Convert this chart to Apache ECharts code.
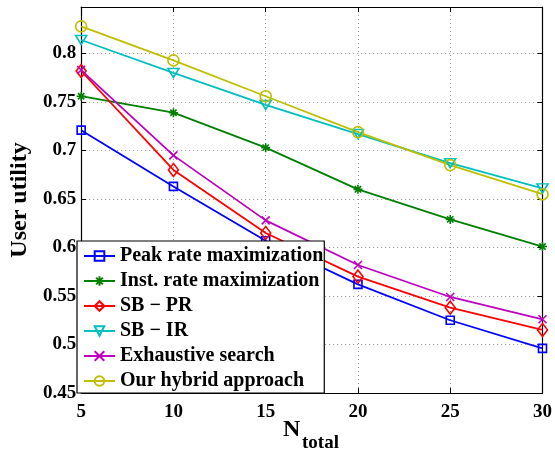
<!DOCTYPE html>
<html>
<head>
<meta charset="utf-8">
<script src="https://cdn.jsdelivr.net/npm/echarts@6/dist/echarts.min.js"></script>
<style>
html,body{margin:0;padding:0;background:#fff;}
#chart{width:555px;height:455px;}
</style>
</head>
<body>
<div id="chart"></div>
<script>
var nTotal = [5, 10, 15, 20, 25, 30];
var seriesNames = ['Peak rate maximization', 'Inst. rate maximization', 'SB \u2212 PR', 'SB \u2212 IR', 'Exhaustive search', 'Our hybrid approach'];
var peakRate = [0.721, 0.663, 0.607, 0.562, 0.525, 0.496];
var instRate = [0.756, 0.739, 0.703, 0.660, 0.629, 0.601];
var sbPR = [0.782, 0.680, 0.615, 0.570, 0.538, 0.515];
var sbIR = [0.814, 0.780, 0.747, 0.717, 0.687, 0.661];
var exhaustive = [0.783, 0.695, 0.628, 0.582, 0.549, 0.526];
var hybrid = [0.828, 0.793, 0.756, 0.719, 0.685, 0.655];
var xTicks = [5, 10, 15, 20, 25, 30];
var yTicks = [0.45, 0.5, 0.55, 0.6, 0.65, 0.7, 0.75, 0.8];

var FONT = 'Liberation Serif';
var colors = ['#0000ff', '#008000', '#ff0000', '#00bfbf', '#bf00bf', '#bfbf00'];
var symbols = ['rect', 'path://M0,5L10,5M5,0L5,10M1.5,1.5L8.5,8.5M1.5,8.5L8.5,1.5', 'diamond', 'triangle', 'path://M0,0L10,10M0,10L10,0', 'circle'];
var sizes = [[8, 8], 9, [10, 13], [11, 9], 8, 11];
var rotates = [0, 0, 0, 180, 0, 0];
var allData = [peakRate, instRate, sbPR, sbIR, exhaustive, hybrid];

function pairs(ys) { return nTotal.map(function (x, i) { return [x, ys[i]]; }); }

var series = allData.map(function (d, i) {
  return {
    name: seriesNames[i],
    type: 'line',
    data: pairs(d),
    symbol: symbols[i],
    symbolSize: sizes[i],
    symbolRotate: rotates[i],
    showSymbol: true,
    lineStyle: { color: colors[i], width: 1.8 },
    itemStyle: { color: 'transparent', borderColor: colors[i], borderWidth: 1.6 },
    emphasis: { disabled: true },
    animation: false
  };
});

var chart = echarts.init(document.getElementById('chart'), null, { renderer: 'canvas' });
var labelStyle = { fontFamily: FONT, fontWeight: 'bold', fontSize: 19, color: '#000' };
chart.setOption({
  animation: false,
  backgroundColor: '#fff',
  grid: { left: 77, right: 9, top: 7, bottom: 62 },
  xAxis: [{
    type: 'value', min: xTicks[0], max: xTicks[xTicks.length - 1], interval: 5,
    axisLine: { show: true, lineStyle: { color: '#000', width: 1.2 } },
    axisTick: { show: true, inside: true, length: 5, lineStyle: { color: '#000' } },
    axisLabel: Object.assign({ margin: 10 }, labelStyle),
    splitLine: { show: true, lineStyle: { color: '#999', type: [1, 3], width: 1 } }
  }, {
    type: 'value', position: 'top', min: xTicks[0], max: xTicks[xTicks.length - 1], interval: 5,
    axisLine: { show: true, onZero: false, lineStyle: { color: '#000', width: 1.2 } },
    axisTick: { show: true, inside: true, length: 5, lineStyle: { color: '#000' } },
    axisLabel: { show: false }, splitLine: { show: false }
  }],
  yAxis: [{
    type: 'value', min: yTicks[0], max: 0.848, interval: 0.05,
    name: 'User utility', nameLocation: 'middle', nameGap: 46,
    nameTextStyle: { fontFamily: FONT, fontWeight: 'bold', fontSize: 24, color: '#000' },
    axisLine: { show: true, lineStyle: { color: '#000', width: 1.2 } },
    axisTick: { show: true, inside: true, length: 5, lineStyle: { color: '#000' } },
    axisLabel: Object.assign({ margin: 5, showMaxLabel: false, formatter: function (v) { return String(+v.toFixed(2)); } }, labelStyle),
    splitLine: { show: true, lineStyle: { color: '#999', type: [1, 3], width: 1 } }
  }, {
    type: 'value', position: 'right', min: yTicks[0], max: 0.848, interval: 0.05,
    axisLine: { show: true, onZero: false, lineStyle: { color: '#000', width: 1.2 } },
    axisTick: { show: true, inside: true, length: 5, lineStyle: { color: '#000' } },
    axisLabel: { show: false }, splitLine: { show: false }
  }],
  legend: {
    orient: 'vertical', left: 77, top: 241,
    backgroundColor: '#fff', borderColor: '#000', borderWidth: 1.2,
    padding: [5, 1, 2, 6], itemWidth: 31, itemHeight: 12, itemGap: 5,
    textStyle: { fontFamily: FONT, fontWeight: 'bold', fontSize: 20, color: '#000', lineHeight: 20 },
    data: seriesNames
  },
  graphic: [
    { type: 'text', left: 283, top: 418, style: { text: 'N', font: 'bold 24px "Liberation Serif"', fill: '#000' } },
    { type: 'text', left: 302, top: 434, style: { text: 'total', font: 'bold 19px "Liberation Serif"', fill: '#000' } }
  ],
  series: series
});
</script>
</body>
</html>
